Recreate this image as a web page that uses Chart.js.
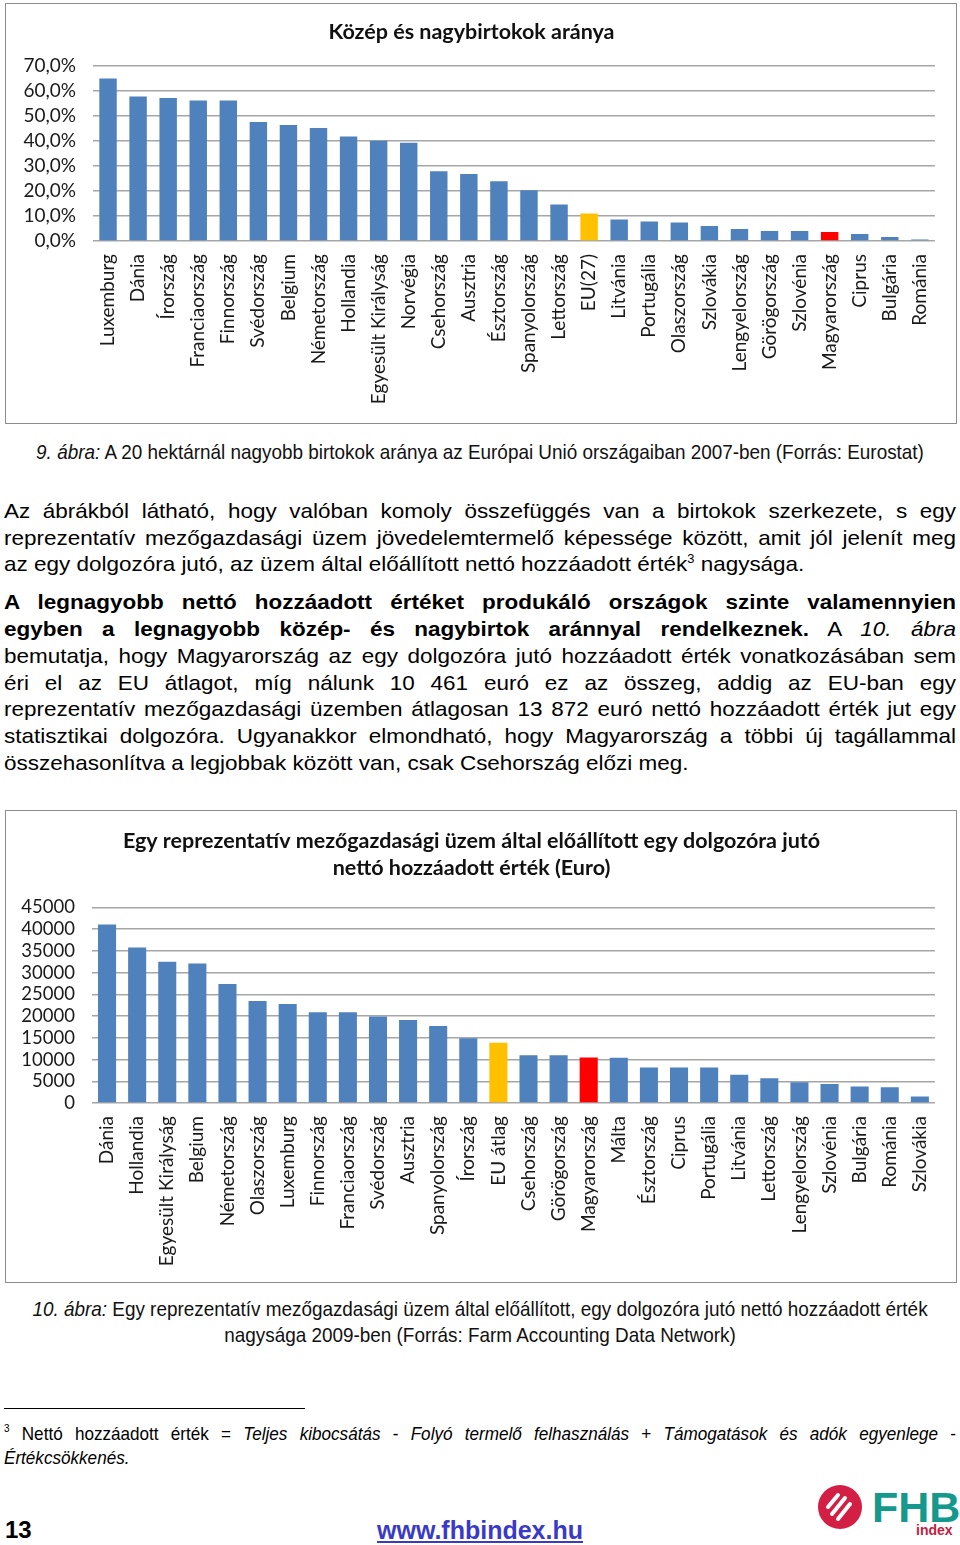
<!DOCTYPE html>
<html>
<head>
<meta charset="utf-8">
<script src="https://cdn.jsdelivr.net/npm/chart.js@4"></script>
<style>
  body { margin: 0; background: #fff; width: 960px; height: 1545px; position: relative; overflow: hidden; }
  .box { position: absolute; left: 5px; width: 950px; border: 1px solid #8c8c8c; }
  .box canvas { display: block; }
  .narrow { font-family: "Liberation Sans", Arial, sans-serif; transform-origin: 0 0; }
  .cap { position: absolute; font-size: 21px; color: #111; text-align: center; }
  .para { position: absolute; left: 4px; width: 889.7px; transform: scaleX(1.07); transform-origin: 0 0; font-family: "Liberation Sans", Arial, sans-serif; font-size: 21px; line-height: 26.7px; color: #000; }
  .para .l { text-align: justify; text-align-last: justify; }
  .para .last { text-align: left; }
  .para .gap { height: 11.3px; }
  sup { font-size: 12px; line-height: 0; vertical-align: 8px; }
</style>
</head>
<body>

<div class="box" style="top:3px;height:419px;"><canvas id="birtokChart"></canvas></div>

<div class="cap narrow" style="left:0;width:1066.7px;transform:scaleX(0.9);top:440px;line-height:24px;"><i>9. ábra:</i> A 20 hektárnál nagyobb birtokok aránya az Európai Unió országaiban 2007-ben (Forrás: Eurostat)</div>

<div class="para" style="top:498px;">
  <div class="l">Az ábrákból látható, hogy valóban komoly összefüggés van a birtokok szerkezete, s egy</div>
  <div class="l">reprezentatív mezőgazdasági üzem jövedelemtermelő képessége között, amit jól jelenít meg</div>
  <div class="last">az egy dolgozóra jutó, az üzem által előállított nettó hozzáadott érték<sup>3</sup> nagysága.</div>
  <div class="gap"></div>
  <div class="l"><b>A legnagyobb nettó hozzáadott értéket produkáló országok szinte valamennyien</b></div>
  <div class="l"><b>egyben a legnagyobb közép- és nagybirtok aránnyal rendelkeznek.</b> A <i>10. ábra</i></div>
  <div class="l">bemutatja, hogy Magyarország az egy dolgozóra jutó hozzáadott érték vonatkozásában sem</div>
  <div class="l">éri el az EU átlagot, míg nálunk 10 461 euró ez az összeg, addig az EU-ban egy</div>
  <div class="l">reprezentatív mezőgazdasági üzemben átlagosan 13 872 euró nettó hozzáadott érték jut egy</div>
  <div class="l">statisztikai dolgozóra. Ugyanakkor elmondható, hogy Magyarország a többi új tagállammal</div>
  <div class="last">összehasonlítva a legjobbak között van, csak Csehország előzi meg.</div>
</div>

<div class="box" style="top:810px;height:471px;"><canvas id="hozzaadottChart"></canvas></div>

<div class="cap narrow" style="left:0;width:1066.7px;transform:scaleX(0.9);top:1296px;line-height:26px;"><i>10. ábra:</i> Egy reprezentatív mezőgazdasági üzem által előállított, egy dolgozóra jutó nettó hozzáadott érték<br>nagysága 2009-ben (Forrás: Farm Accounting Data Network)</div>

<div style="position:absolute;left:4px;top:1408px;width:301px;border-top:1px solid #000;"></div>
<div class="narrow" style="position:absolute;left:4px;top:1422px;width:1057.8px;transform:scaleX(0.9);font-size:19px;line-height:24px;">
  <div style="text-align:justify;text-align-last:justify;"><sup style="font-size:11px;">3</sup> Nettó hozzáadott érték = <i>Teljes kibocsátás</i> - <i>Folyó termelő felhasználás</i> + <i>Támogatások és adók egyenlege</i> -</div>
  <div><i>Értékcsökkenés.</i></div>
</div>

<div style="position:absolute;left:5px;top:1516px;font-family:'Liberation Sans',Arial,sans-serif;font-weight:bold;font-size:24px;line-height:28px;">13</div>
<div style="position:absolute;left:0;width:960px;top:1515px;text-align:center;font-family:'Liberation Sans',Arial,sans-serif;font-weight:bold;font-size:25px;line-height:30px;"><span style="color:#3a3ac8;text-decoration:underline;">www.fhbindex.hu</span></div>

<svg style="position:absolute;left:815px;top:1482px;" width="145" height="60" viewBox="0 0 145 60">
  <circle cx="25" cy="25" r="22" fill="#d41f45"/>
  <g stroke="#fff" stroke-width="4" stroke-linecap="round">
    <line x1="13" y1="25" x2="23" y2="13"/>
    <line x1="17" y1="32" x2="30" y2="16"/>
    <line x1="23" y1="37" x2="35" y2="22"/>
  </g>
  <text x="57" y="40" font-family="Liberation Sans, Arial, sans-serif" font-weight="bold" font-size="43" fill="#15998c">FHB</text>
  <text x="101" y="53" font-family="Liberation Sans, Arial, sans-serif" font-weight="bold" font-size="14" fill="#c21d3f">index</text>
</svg>

<script>
// 9. ábra - közép és nagybirtokok aránya (%), 2007
const birtokOrszagok = ['Luxemburg', 'Dánia', 'Írország', 'Franciaország', 'Finnország', 'Svédország', 'Belgium',
  'Németország', 'Hollandia', 'Egyesült Királyság', 'Norvégia', 'Csehország', 'Ausztria', 'Észtország',
  'Spanyolország', 'Lettország', 'EU(27)', 'Litvánia', 'Portugália', 'Olaszország', 'Szlovákia',
  'Lengyelország', 'Görögország', 'Szlovénia', 'Magyarország', 'Ciprus', 'Bulgária', 'Románia'];
const birtokArany = [64.9, 57.7, 57.1, 56.1, 56.1, 47.5, 46.3, 45.1, 41.8, 40.1, 39.3, 27.9, 26.8, 23.9,
  20.3, 14.6, 11.0, 8.6, 7.8, 7.4, 6.0, 4.8, 4.0, 4.0, 3.6, 2.8, 1.6, 0.6];
const birtokTicks = [0, 10, 20, 30, 40, 50, 60, 70];

// 10. ábra - egy dolgozóra jutó nettó hozzáadott érték (Euro), 2009
const ertekOrszagok = ['Dánia', 'Hollandia', 'Egyesült Királyság', 'Belgium', 'Németország', 'Olaszország',
  'Luxemburg', 'Finnország', 'Franciaország', 'Svédország', 'Ausztria', 'Spanyolország', 'Írország',
  'EU átlag', 'Csehország', 'Görögország', 'Magyarország', 'Málta', 'Észtország', 'Ciprus', 'Portugália',
  'Litvánia', 'Lettország', 'Lengyelország', 'Szlovénia', 'Bulgária', 'Románia', 'Szlovákia'];
const ertekEuro = [41100, 35800, 32500, 32100, 27400, 23500, 22800, 20900, 20900, 19900, 19100, 17700, 14900,
  13872, 11000, 11000, 10461, 10400, 8200, 8200, 8200, 6500, 5700, 4800, 4400, 3800, 3600, 1500];
const ertekTicks = [0, 5000, 10000, 15000, 20000, 25000, 30000, 35000, 40000, 45000];

const KEK = '#4f81bd', SARGA = '#ffc000', PIROS = '#ff0000';

function barColors(labels) {
  return labels.map(l => l.startsWith('EU') ? SARGA : (l === 'Magyarország' ? PIROS : KEK));
}

Chart.defaults.font.family = "Lato, 'Open Sans', sans-serif";
Chart.defaults.color = '#1a1a1a';
Chart.defaults.animation = false;

function makeChart(id, w, h, labels, values, ticks, title, opts) {
  const cv = document.getElementById(id);
  cv.width = w; cv.height = h;
  cv.style.width = w + 'px'; cv.style.height = h + 'px';
  return new Chart(cv.getContext('2d'), {
    type: 'bar',
    data: {
      labels,
      datasets: [{
        data: values,
        backgroundColor: barColors(labels),
        barPercentage: opts.barPct,
        categoryPercentage: 1
      }]
    },
    options: {
      responsive: false,
      layout: { padding: { left: 0, right: opts.right, top: 0, bottom: 0 } },
      plugins: {
        legend: { display: false },
        tooltip: { enabled: false },
        title: {
          display: true,
          text: title,
          color: '#111',
          font: { size: opts.titleSize, weight: 'bold', lineHeight: opts.titleLH },
          padding: { top: opts.titleTop, bottom: opts.titleBottom }
        }
      },
      scales: {
        x: {
          grid: { display: false, drawTicks: false },
          border: { display: false },
          ticks: { autoSkip: false, minRotation: 90, maxRotation: 90, padding: 13, font: { size: 19 }, color: '#1a1a1a' },
          afterFit: s => { s.height = opts.xHeight; }
        },
        y: {
          min: 0,
          max: ticks[ticks.length - 1],
          afterBuildTicks: s => { s.ticks = ticks.map(v => ({ value: v })); },
          grid: { color: '#a6a6a6', lineWidth: 1.5, drawTicks: false },
          border: { display: false },
          ticks: { autoSkip: false, padding: 17, font: { size: opts.yFont }, color: '#1a1a1a', callback: opts.fmt },
          afterFit: s => { s.width = opts.yWidth; }
        }
      }
    }
  });
}

makeChart('birtokChart', 950, 419, birtokOrszagok, birtokArany, birtokTicks,
  'Közép és nagybirtokok aránya',
  { barPct: 0.58, right: 19, titleSize: 21.5, titleLH: 1.2, titleTop: 15, titleBottom: 21, xHeight: 182, yWidth: 87, yFont: 19,
    fmt: v => v.toFixed(1).replace('.', ',') + '%' });

makeChart('hozzaadottChart', 950, 471, ertekOrszagok, ertekEuro, ertekTicks,
  ['Egy reprezentatív mezőgazdasági üzem által előállított egy dolgozóra jutó', 'nettó hozzáadott érték (Euro)'],
  { barPct: 0.6, right: 19, titleSize: 21.5, titleLH: 1.256, titleTop: 16.5, titleBottom: 26, xHeight: 179, yWidth: 86, yFont: 18.5,
    fmt: v => String(v) });
</script>
</body>
</html>
